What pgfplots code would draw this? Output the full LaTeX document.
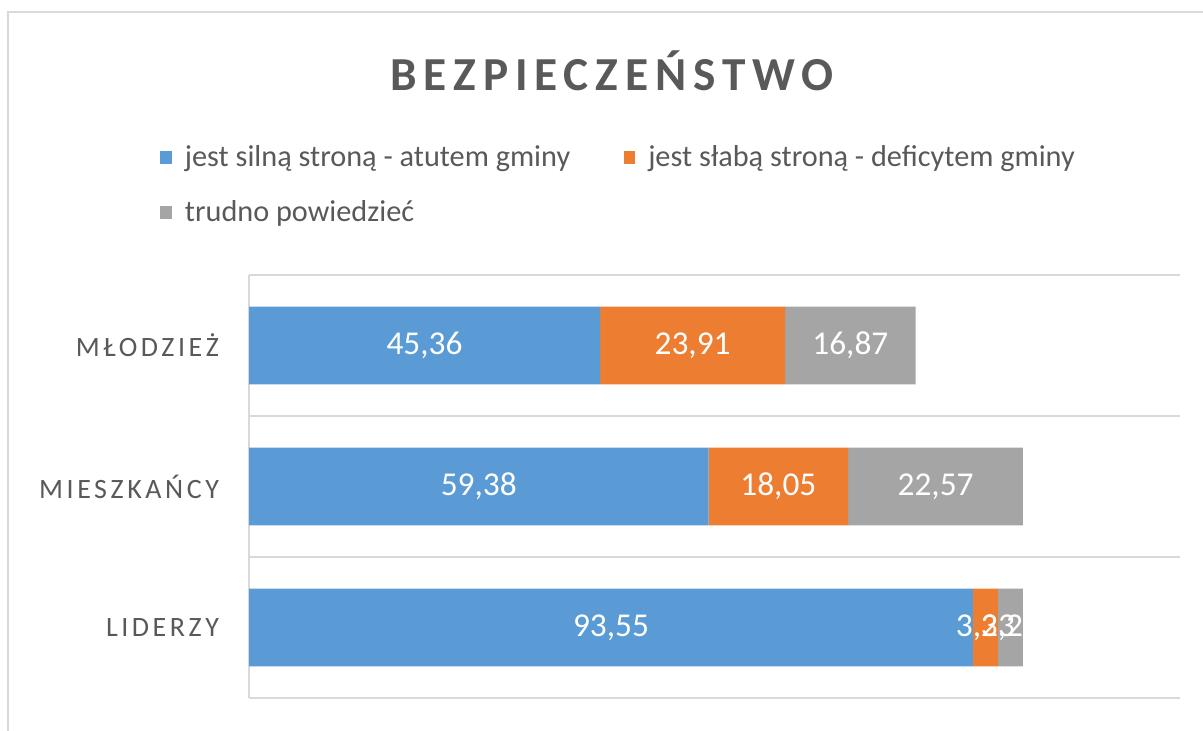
\documentclass[border=0pt]{standalone}
\usepackage{pgfplots}
\pgfplotsset{compat=1.18}
\usepackage{fontspec}
\setmainfont{Carlito}
\newfontfamily\catfont[LetterSpace=12.7]{Carlito}
\newfontfamily\titlefont[LetterSpace=14.5]{Carlito}
\definecolor{cblue}{HTML}{5B9BD5}
\definecolor{corange}{HTML}{ED7D31}
\definecolor{cgray}{HTML}{A5A5A5}
\definecolor{ctext}{HTML}{595959}
\definecolor{cgrid}{HTML}{D9D9D9}

\pgfplotstableread{
y  a      b      c
0  93.55  3.23   3.22
1  59.38  18.05  22.57
2  45.36  23.91  16.87
}\datatable

\pgfplotstableread{
x       y  label
22.68   2  45,36
57.315  2  23,91
77.705  2  16,87
29.69   1  59,38
68.405  1  18,05
88.715  1  22,57
46.775  0  93,55
95.165  0  3,23
98.39   0  3,22
}\labeltable

\begin{document}
\begin{tikzpicture}[x=0.75pt,y=0.75pt]
\path[use as bounding box] (0,0) rectangle (1203,731);
\draw[cgrid, line width=1.2pt] (8,0) -- (8,719) -- (1203,719);
\node[text=ctext, font=\titlefont\bfseries\fontsize{35.5}{40}\selectfont] at (612,660) {BEZPIECZEŃSTWO};

\begin{axis}[
  at={(186.75pt,24.75pt)}, anchor=south west,
  scale only axis, width=698.25pt, height=317.25pt,
  xbar stacked, bar width=0.553,
  xmin=0, xmax=120.3, ymin=-0.5, ymax=2.5,
  axis lines*=left,
  x axis line style={draw=none},
  y axis line style={cgrid, line width=1.1pt},
  xtick=\empty,
  ytick={0,1,2},
  yticklabels={LIDERZY, MIESZKAŃCY, MŁODZIEŻ},
  minor ytick={-0.5,0.5,1.5,2.5},
  yminorgrids,
  minor grid style={cgrid, line width=1.1pt},
  major tick length=0pt, minor tick length=0pt,
  yticklabel style={font=\catfont\fontsize{21}{25}\selectfont, text=ctext, anchor=east, xshift=-19pt},
  legend columns=2,
  legend cell align=left,
  legend style={at={(-0.0956,1.312)}, anchor=north west, draw=none, fill=none, inner sep=0pt,
    font=\fontsize{22.7}{27}\selectfont, text=ctext,
    /tikz/every odd column/.append style={column sep=8pt},
    /tikz/every even column/.append style={column sep=38pt},
    row sep=20pt},
  legend image code/.code={\fill[#1] (0pt,-5.2pt) rectangle (8.5pt,5.2pt);},
]
\addplot[fill=cblue, draw=none] table[x=a, y=y] {\datatable};
\addplot[fill=corange, draw=none] table[x=b, y=y] {\datatable};
\addplot[fill=cgray, draw=none] table[x=c, y=y] {\datatable};
\legend{jest silną stroną - atutem gminy, jest słabą stroną - deficytem gminy, trudno powiedzieć}
\end{axis}

\begin{axis}[
  at={(186.75pt,24.75pt)}, anchor=south west,
  scale only axis, width=698.25pt, height=317.25pt,
  xmin=0, xmax=120.3, ymin=-0.5, ymax=2.5,
  hide axis,
]
\addplot[draw=none, mark=none, nodes near coords, point meta=explicit symbolic,
  every node near coord/.append style={anchor=center, text=white, font=\fontsize{25}{30}\selectfont}]
  table[x=x, y=y, meta=label] {\labeltable};
\end{axis}
\end{tikzpicture}
\end{document}
